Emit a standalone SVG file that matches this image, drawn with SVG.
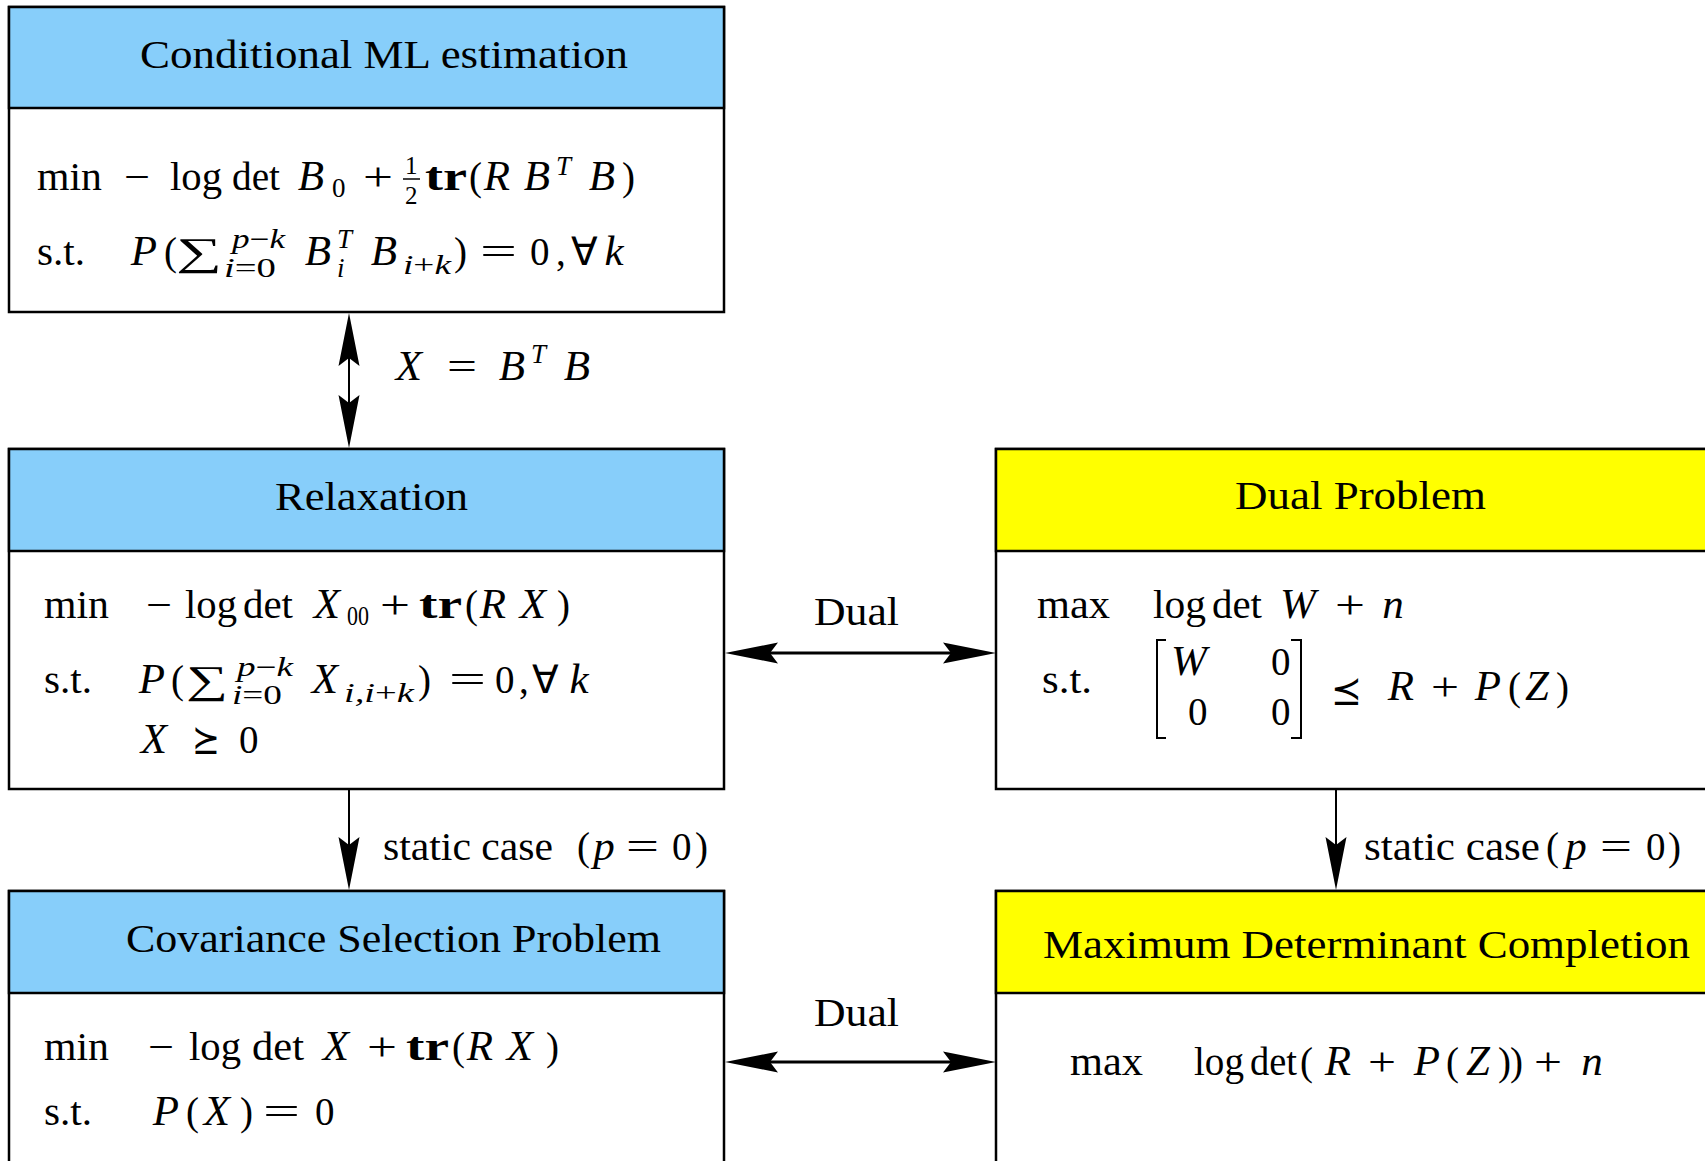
<svg xmlns="http://www.w3.org/2000/svg" xmlns:xlink="http://www.w3.org/1999/xlink" width="1705" height="1161" viewBox="0 0 1705 1161">
<style>
text{font-family:"Liberation Serif","Times New Roman",serif;fill:#000;}
.h{font-size:41px;}
.m{font-size:39px;}
.i{font-style:italic;}
.v{font-size:43px;font-style:italic;text-anchor:middle;}
.s{font-size:27px;}
.t{font-size:25px;}
.b{font-weight:bold;}
.sym{font-family:"DejaVu Serif","DejaVu Sans",serif;}
.box{fill:#fff;stroke:#000;stroke-width:2.5;}
.hb{fill:#87CEFA;stroke:#000;stroke-width:2.5;}
.hy{fill:#FFFF00;stroke:#000;stroke-width:2.5;}
.ln{stroke:#000;stroke-width:2;fill:none;}
.lt{stroke:#000;stroke-width:3;fill:none;}
.br{stroke:#000;stroke-width:2;fill:none;}
</style>
<defs>
<path id="ah" d="M0,0 L-53,-10.5 L-45,0 L-53,10.5 Z" fill="#000"/>
</defs>
<rect x="0" y="0" width="1705" height="1161" fill="#fff"/>

<g id="node-cml">
<rect class="box" x="9" y="7" width="715" height="305"/>
<rect class="hb" x="9" y="7" width="715" height="101"/>
<text class="h" x="140" y="68" textLength="488" lengthAdjust="spacingAndGlyphs">Conditional ML estimation</text>
<text class="m" x="37" y="190" textLength="65" lengthAdjust="spacingAndGlyphs">min</text>
<text class="m" x="124" y="190" textLength="26" lengthAdjust="spacingAndGlyphs">−</text>
<text class="m" x="170" y="190" textLength="52" lengthAdjust="spacingAndGlyphs">log</text>
<text class="m" x="232" y="190" textLength="48" lengthAdjust="spacingAndGlyphs">det</text>
<text class="v" x="311" y="190">B</text>
<text class="s" x="332" y="197">0</text>
<text class="m" x="363" y="190" textLength="30" lengthAdjust="spacingAndGlyphs">+</text>
<text class="t" x="405" y="174">1</text>
<line class="ln" x1="403" y1="179" x2="420" y2="179" style="stroke-width:1.5"/>
<text class="t" x="405" y="204">2</text>
<text class="m b" x="425" y="190" textLength="42" lengthAdjust="spacingAndGlyphs">tr</text>
<text class="m" x="469" y="190">(</text>
<text class="v" x="497" y="190">R</text>
<text class="v" x="537" y="190">B</text>
<text class="s i" x="556" y="175">T</text>
<text class="v" x="602" y="190">B</text>
<text class="m" x="622" y="190">)</text>
<text class="m" x="37" y="265" textLength="48" lengthAdjust="spacingAndGlyphs">s.t.</text>
<text class="v" x="144" y="265">P</text>
<text class="m" x="164" y="265">(</text>
<text class="m" x="176" y="265" textLength="46" lengthAdjust="spacingAndGlyphs">∑</text>
<text class="s i" x="232" y="248" textLength="53" lengthAdjust="spacingAndGlyphs">p<tspan font-style="normal">−</tspan>k</text>
<text class="s i" x="224" y="277" textLength="52" lengthAdjust="spacingAndGlyphs">i<tspan font-style="normal">=0</tspan></text>
<text class="v" x="318" y="265">B</text>
<text class="s i" x="337" y="248">T</text>
<text class="s i" x="337" y="277">i</text>
<text class="v" x="384" y="265">B</text>
<text class="s i" x="403" y="274" textLength="48" lengthAdjust="spacingAndGlyphs">i<tspan font-style="normal">+</tspan>k</text>
<text class="m" x="454" y="265">)</text>
<text class="m" x="480" y="265" textLength="37" lengthAdjust="spacingAndGlyphs">=</text>
<text class="m" x="530" y="265">0</text>
<text class="m" x="556" y="265">,</text>
<text class="m" x="571" y="265">∀</text>
<text class="v" x="614" y="265">k</text>
</g>

<g id="node-relax">
<rect class="box" x="9" y="449" width="715" height="340"/>
<rect class="hb" x="9" y="449" width="715" height="102"/>
<text class="h" x="275" y="510" textLength="193" lengthAdjust="spacingAndGlyphs">Relaxation</text>
<text class="m" x="44" y="618" textLength="65" lengthAdjust="spacingAndGlyphs">min</text>
<text class="m" x="146" y="618" textLength="26" lengthAdjust="spacingAndGlyphs">−</text>
<text class="m" x="185" y="618" textLength="52" lengthAdjust="spacingAndGlyphs">log</text>
<text class="m" x="243" y="618" textLength="50" lengthAdjust="spacingAndGlyphs">det</text>
<text class="v" x="327" y="618">X</text>
<text class="s" x="347" y="625" textLength="22" lengthAdjust="spacingAndGlyphs">00</text>
<text class="m" x="380" y="618" textLength="30" lengthAdjust="spacingAndGlyphs">+</text>
<text class="m b" x="419" y="618" textLength="43" lengthAdjust="spacingAndGlyphs">tr</text>
<text class="m" x="465" y="618">(</text>
<text class="v" x="493" y="618">R</text>
<text class="v" x="533" y="618">X</text>
<text class="m" x="557" y="618">)</text>
<text class="m" x="44" y="693" textLength="48" lengthAdjust="spacingAndGlyphs">s.t.</text>
<text class="v" x="152" y="693">P</text>
<text class="m" x="171" y="693">(</text>
<text class="m" x="186" y="693" textLength="42" lengthAdjust="spacingAndGlyphs">∑</text>
<text class="s i" x="237" y="676" textLength="56" lengthAdjust="spacingAndGlyphs">p<tspan font-style="normal">−</tspan>k</text>
<text class="s i" x="232" y="704" textLength="50" lengthAdjust="spacingAndGlyphs">i<tspan font-style="normal">=0</tspan></text>
<text class="v" x="325" y="693">X</text>
<text class="s i" x="344" y="702" textLength="70" lengthAdjust="spacingAndGlyphs">i,i<tspan font-style="normal">+</tspan>k</text>
<text class="m" x="418" y="693">)</text>
<text class="m" x="449" y="693" textLength="37" lengthAdjust="spacingAndGlyphs">=</text>
<text class="m" x="495" y="693">0</text>
<text class="m" x="519" y="693">,</text>
<text class="m" x="532" y="693">∀</text>
<text class="v" x="579" y="693">k</text>
<text class="v" x="154" y="753">X</text>
<text class="m sym" x="192" y="753" textLength="28" lengthAdjust="spacingAndGlyphs">⪰</text>
<text class="m" x="239" y="753">0</text>
</g>

<g id="node-dual">
<rect class="box" x="996" y="449" width="730" height="340"/>
<rect class="hy" x="996" y="449" width="730" height="102"/>
<text class="h" x="1235" y="509" textLength="251" lengthAdjust="spacingAndGlyphs">Dual Problem</text>
<text class="m" x="1037" y="618" textLength="73" lengthAdjust="spacingAndGlyphs">max</text>
<text class="m" x="1153" y="618" textLength="53" lengthAdjust="spacingAndGlyphs">log</text>
<text class="m" x="1212" y="618" textLength="50" lengthAdjust="spacingAndGlyphs">det</text>
<text class="v" x="1298" y="618">W</text>
<text class="m" x="1335" y="618" textLength="30" lengthAdjust="spacingAndGlyphs">+</text>
<text class="v" x="1393" y="618">n</text>
<text class="m" x="1042" y="693" textLength="50" lengthAdjust="spacingAndGlyphs">s.t.</text>
<path class="br" d="M1166,640 H1157 V738 H1166"/>
<path class="br" d="M1291,640 H1301 V738 H1291"/>
<text class="v" x="1189" y="675">W</text>
<text class="m" x="1271" y="675">0</text>
<text class="m" x="1188" y="725">0</text>
<text class="m" x="1271" y="725">0</text>
<text class="m sym" x="1331" y="704" textLength="31" lengthAdjust="spacingAndGlyphs">⪯</text>
<text class="v" x="1401" y="700">R</text>
<text class="m" x="1431" y="700" textLength="28" lengthAdjust="spacingAndGlyphs">+</text>
<text class="v" x="1488" y="700">P</text>
<text class="m" x="1508" y="700">(</text>
<text class="v" x="1537" y="700">Z</text>
<text class="m" x="1556" y="700">)</text>
</g>

<g id="node-cov">
<rect class="box" x="9" y="891" width="715" height="300"/>
<rect class="hb" x="9" y="891" width="715" height="102"/>
<text class="h" x="126" y="952" textLength="535" lengthAdjust="spacingAndGlyphs">Covariance Selection Problem</text>
<text class="m" x="44" y="1060" textLength="65" lengthAdjust="spacingAndGlyphs">min</text>
<text class="m" x="148" y="1060" textLength="26" lengthAdjust="spacingAndGlyphs">−</text>
<text class="m" x="189" y="1060" textLength="52" lengthAdjust="spacingAndGlyphs">log</text>
<text class="m" x="252" y="1060" textLength="52" lengthAdjust="spacingAndGlyphs">det</text>
<text class="v" x="336" y="1060">X</text>
<text class="m" x="367" y="1060" textLength="30" lengthAdjust="spacingAndGlyphs">+</text>
<text class="m b" x="406" y="1060" textLength="43" lengthAdjust="spacingAndGlyphs">tr</text>
<text class="m" x="452" y="1060">(</text>
<text class="v" x="480" y="1060">R</text>
<text class="v" x="520" y="1060">X</text>
<text class="m" x="546" y="1060">)</text>
<text class="m" x="44" y="1125" textLength="48" lengthAdjust="spacingAndGlyphs">s.t.</text>
<text class="v" x="166" y="1125">P</text>
<text class="m" x="186" y="1125">(</text>
<text class="v" x="217" y="1125">X</text>
<text class="m" x="240" y="1125">)</text>
<text class="m" x="263" y="1125" textLength="37" lengthAdjust="spacingAndGlyphs">=</text>
<text class="m" x="315" y="1125">0</text>
</g>

<g id="node-maxdet">
<rect class="box" x="996" y="891" width="730" height="300"/>
<rect class="hy" x="996" y="891" width="730" height="102"/>
<text class="h" x="1043" y="958" textLength="647" lengthAdjust="spacingAndGlyphs">Maximum Determinant Completion</text>
<text class="m" x="1070" y="1075" textLength="73" lengthAdjust="spacingAndGlyphs">max</text>
<text class="m" x="1194" y="1075" textLength="50" lengthAdjust="spacingAndGlyphs">log</text>
<text class="m" x="1250" y="1075" textLength="47" lengthAdjust="spacingAndGlyphs">det</text>
<text class="m" x="1300" y="1075">(</text>
<text class="v" x="1338" y="1075">R</text>
<text class="m" x="1368" y="1075" textLength="28" lengthAdjust="spacingAndGlyphs">+</text>
<text class="v" x="1427" y="1075">P</text>
<text class="m" x="1446" y="1075">(</text>
<text class="v" x="1478" y="1075">Z</text>
<text class="m" x="1498" y="1075">)</text>
<text class="m" x="1510" y="1075">)</text>
<text class="m" x="1534" y="1075" textLength="28" lengthAdjust="spacingAndGlyphs">+</text>
<text class="v" x="1592" y="1075">n</text>
</g>

<g id="connectors">
<line class="ln" x1="349" y1="325" x2="349" y2="436"/>
<use xlink:href="#ah" href="#ah" transform="translate(349,313) rotate(-90)"/>
<use xlink:href="#ah" href="#ah" transform="translate(349,448) rotate(90)"/>
<text class="v" x="409" y="380">X</text>
<text class="m" x="447" y="380" textLength="30" lengthAdjust="spacingAndGlyphs">=</text>
<text class="v" x="512" y="380">B</text>
<text class="s i" x="531" y="363">T</text>
<text class="v" x="577" y="380">B</text>

<line class="lt" x1="740" y1="653" x2="981" y2="653"/>
<use xlink:href="#ah" href="#ah" transform="translate(725,653) rotate(180)"/>
<use xlink:href="#ah" href="#ah" transform="translate(996,653)"/>
<text class="m" x="814" y="625" textLength="85" lengthAdjust="spacingAndGlyphs">Dual</text>

<line class="lt" x1="740" y1="1062" x2="981" y2="1062"/>
<use xlink:href="#ah" href="#ah" transform="translate(725,1062) rotate(180)"/>
<use xlink:href="#ah" href="#ah" transform="translate(996,1062)"/>
<text class="m" x="814" y="1026" textLength="85" lengthAdjust="spacingAndGlyphs">Dual</text>

<line class="ln" x1="349" y1="789" x2="349" y2="876"/>
<use xlink:href="#ah" href="#ah" transform="translate(349,890) rotate(90)"/>
<text class="m" x="383" y="860" textLength="170" lengthAdjust="spacingAndGlyphs">static case</text>
<text class="m" x="577" y="860">(</text>
<text class="v" x="604" y="860">p</text>
<text class="m" x="626" y="860" textLength="33" lengthAdjust="spacingAndGlyphs">=</text>
<text class="m" x="672" y="860">0</text>
<text class="m" x="695" y="860">)</text>

<line class="ln" x1="1336" y1="789" x2="1336" y2="876"/>
<use xlink:href="#ah" href="#ah" transform="translate(1336,890) rotate(90)"/>
<text class="m" x="1364" y="860" textLength="176" lengthAdjust="spacingAndGlyphs">static case</text>
<text class="m" x="1546" y="860">(</text>
<text class="v" x="1576" y="860">p</text>
<text class="m" x="1600" y="860" textLength="32" lengthAdjust="spacingAndGlyphs">=</text>
<text class="m" x="1646" y="860">0</text>
<text class="m" x="1668" y="860">)</text>
</g>
</svg>
